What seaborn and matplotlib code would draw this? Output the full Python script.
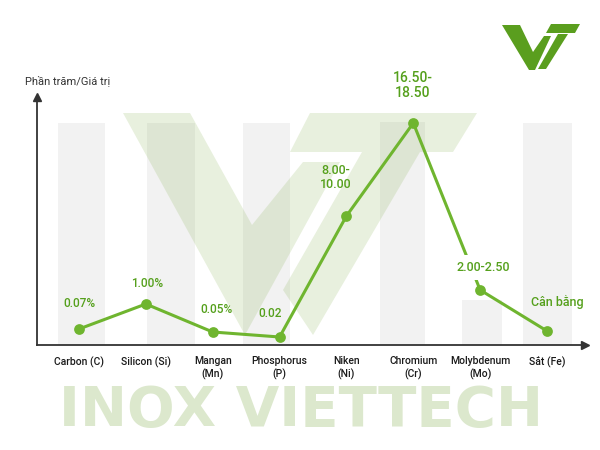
import numpy as np
import pandas as pd
import seaborn as sns
import matplotlib.pyplot as plt
from matplotlib.patches import Polygon, Rectangle

# data (the y axis has no scale, levels are drawing heights)
elements = ["Carbon (C)", "Silicon (Si)", "Mangan\n(Mn)", "Phosphorus\n(P)",
            "Niken\n(Ni)", "Chromium\n(Cr)", "Molybdenum\n(Mo)", "Sắt (Fe)"]
levels = [16, 41, 13, 8, 129, 222, 55, 14]
value_labels = ["0.07%", "1.00%", "0.05%", "0.02", "8.00-\n10.00",
                "16.50-\n18.50", "2.00-2.50", "Cân bằng"]
y_title = "Phần trăm/Giá trị"
brand = "INOX VIETTECH"

# label placement (pixels from the point) and sizes
label_offsets = [(0, 19), (1, 14), (4, 16), (-10, 17), (-11, 25), (-1, 23), (3, 16), (10, 22)]
label_sizes = [8.5, 8.5, 8.5, 8.5, 9, 10, 9, 9]

LINE = "#6fb52f"
TEXT_GREEN = "#55a01c"
AXIS = "#333333"

sns.set_style("white")
plt.rcParams["font.family"] = ["Roboto", "DejaVu Sans"]

df = pd.DataFrame({"pos": np.arange(len(elements)), "level": levels})

fig = plt.figure(figsize=(6, 4.5), dpi=100)

# background layer in pixel coordinates for the watermark
bg = fig.add_axes([0, 0, 1, 1], zorder=0)
bg.set_xlim(0, 600)
bg.set_ylim(450, 0)
bg.axis("off")

gray = "#f2f2f2"
for x0, x1, top in [(58, 105, 123), (147, 195, 123), (243, 290, 123),
                    (380, 425, 122), (462, 502, 300), (523, 572, 123)]:
    bg.add_patch(Rectangle((x0, top), x1 - x0, 345 - top, color=gray, lw=0))

wm = dict(color="#8db55a", alpha=0.2, lw=0)
bg.add_patch(Polygon([(123, 113), (190, 113), (252, 225), (303, 162), (340, 162), (245, 335)], **wm))
bg.add_patch(Polygon([(310, 113), (477, 113), (453, 152), (290, 152)], **wm))
bg.add_patch(Polygon([(362, 152), (420, 152), (313, 335), (283, 290)], **wm))

bg.text(301, 411, brand, ha="center", va="center", fontsize=40.5, fontweight="bold",
        color="#dce8cd", family="DejaVu Sans")

logo = "#5a9e1e"
bg.add_patch(Polygon([(502, 25), (520, 25), (533, 52), (544, 36), (551, 36),
                      (535, 70), (529, 70)], color=logo, lw=0))
bg.add_patch(Polygon([(551, 24), (580, 24), (575, 33), (546, 33)], color=logo, lw=0))
bg.add_patch(Polygon([(558, 34), (568, 34), (546, 69), (538, 69)], color=logo, lw=0))

# main chart
ax = fig.add_axes([37 / 600, 105 / 450, 548 / 600, 248 / 450], zorder=1)
ax.patch.set_visible(False)

sns.lineplot(data=df, x="pos", y="level", color=LINE, linewidth=2.2, ax=ax, zorder=3)
sns.scatterplot(data=df, x="pos", y="level", color=LINE, s=60, edgecolor=LINE,
                linewidth=0, ax=ax, zorder=5)

for i, (txt, off, fs) in enumerate(zip(value_labels, label_offsets, label_sizes)):
    kw = {}
    if i == 6:
        kw["bbox"] = dict(boxstyle="square,pad=0.45", fc="white", ec="none")
    ax.annotate(txt, (i, levels[i]), xytext=off, textcoords="offset pixels",
                ha="center", va="bottom", fontsize=fs, color=TEXT_GREEN,
                fontweight="medium", linespacing=1.05, zorder=4, **kw)

ax.set_xlim(-0.628, 7.568)
ax.set_ylim(0, 248)
ax.set_xticks(range(len(elements)))
ax.set_xticklabels(elements, fontsize=7.5, color="#1a1a1a", linespacing=1.3,
                   fontweight="medium")
ax.tick_params(axis="x", length=0, pad=8)
ax.set_yticks([])
ax.set_xlabel("")
ax.set_ylabel("")

sns.despine(ax=ax)
for side in ["left", "bottom"]:
    ax.spines[side].set_color(AXIS)
    ax.spines[side].set_linewidth(1.3)
ax.plot(1, 0, ">", color=AXIS, markersize=6, transform=ax.transAxes, clip_on=False)
ax.plot(0, 1, "^", color=AXIS, markersize=6, transform=ax.transAxes, clip_on=False)

fig.text(25 / 600, 1 - 81 / 450, y_title, ha="left", va="center", fontsize=8, color="#333333")

fig.savefig("out.png", dpi=100)
